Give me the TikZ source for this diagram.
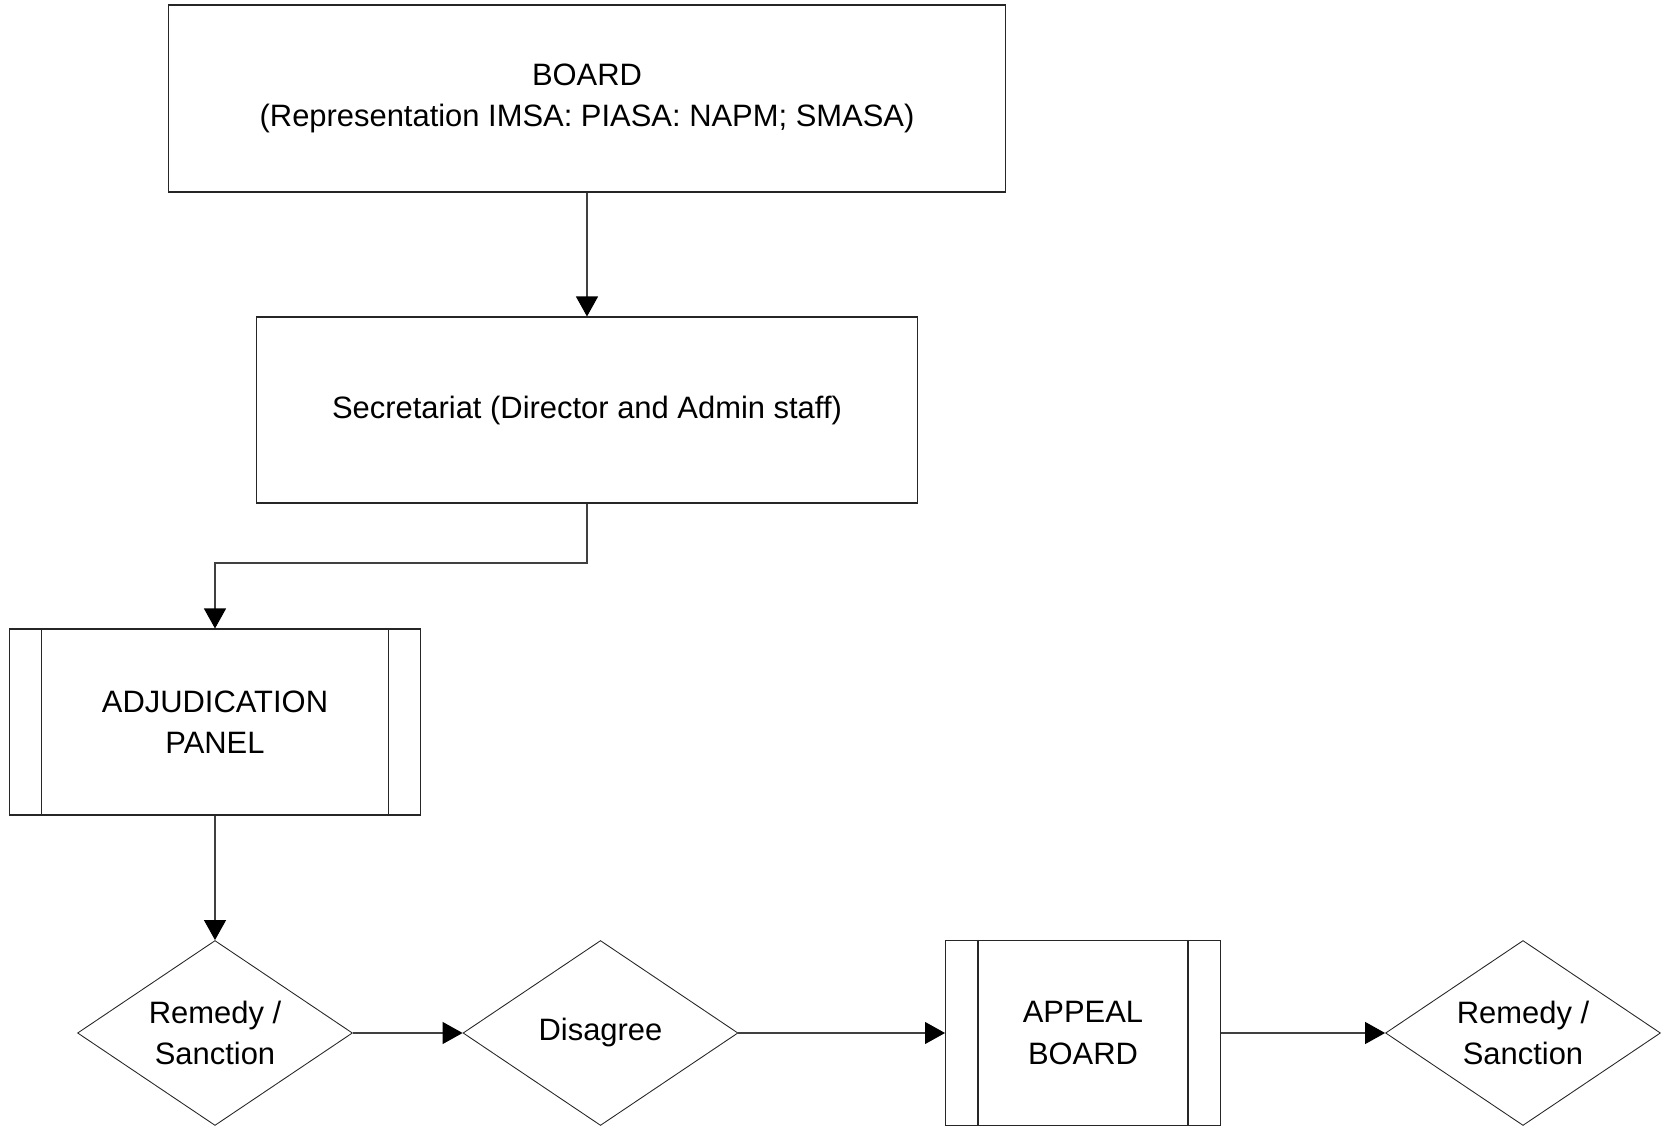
\documentclass[tikz,border=0pt]{standalone}
\usepackage{fontspec}
\setmainfont{Liberation Sans}
\usepackage{tikz}
\usetikzlibrary{arrows.meta,shapes.geometric,positioning}

\begin{document}
\begin{tikzpicture}[
		x=0.02cm, y=-0.02cm,
		every node/.style={font=\fontsize{17.6}{23.6}\selectfont, align=center},
		box/.style={rectangle, draw=black!85, line width=0.6pt, inner sep=2pt},
		subproc/.style={box, minimum width=5.5cm, minimum height=3.7cm},
		decision/.style={diamond, draw=black!85, line width=0.5pt, inner sep=0pt, shape aspect=1.5, minimum width=5.5cm, minimum height=3.7cm},
		->, >={Triangle[length=0.4cm, width=0.44cm, black]},
		line width=0.6pt, draw=black!75
		]

		\useasboundingbox (0,0) rectangle (1671,1128);

		% Haut
		\node[box, minimum width=16.76cm, minimum height=3.74cm] (board) at (587, 98.5) {BOARD\\(Representation IMSA: PIASA: NAPM; SMASA)};
		\node[box, minimum width=13.24cm, minimum height=3.72cm] (secr) at (587, 410) {Secretariat (Director and Admin staff)};
		\node[subproc, minimum width=8.24cm, minimum height=3.72cm] (adj) at (215, 722) {ADJUDICATION\\PANEL};
		\coordinate (turn) at (215, 563);

		\draw (board) -- (secr);
		\draw (secr.south) |- (turn) -- (adj.north);

		% Ligne du bas
		\node[decision] (rem1) at (215, 1033) {Remedy /\\Sanction};
		\node[decision] (dis) at (600.5, 1033) {Disagree};
		\node[subproc] (app) at (1083, 1033) {APPEAL\\BOARD};
		\node[decision] (rem2) at (1523, 1033) {Remedy /\\Sanction};

		\draw (adj) -- (rem1);
		\draw (rem1) -- (dis);
		\draw (dis) -- (app);
		\draw (app) -- (rem2);

		% barres des sous-processus
		\draw[-, black!85] ([xshift=0.66cm]adj.north west) -- ([xshift=0.66cm]adj.south west);
		\draw[-, black!85] ([xshift=-0.66cm]adj.north east) -- ([xshift=-0.66cm]adj.south east);
		\draw[-, black!85] ([xshift=0.66cm]app.north west) -- ([xshift=0.66cm]app.south west);
		\draw[-, black!85] ([xshift=-0.66cm]app.north east) -- ([xshift=-0.66cm]app.south east);
	\end{tikzpicture}
\end{document}
